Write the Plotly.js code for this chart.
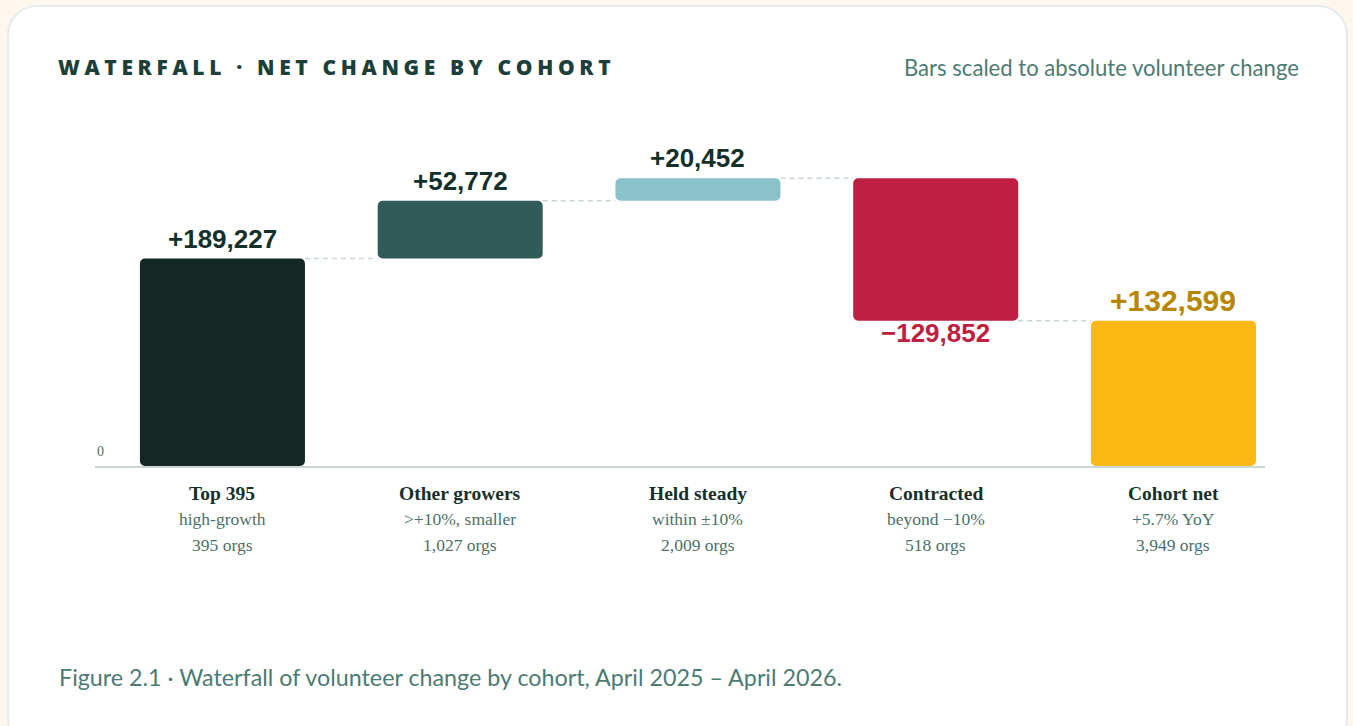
<!DOCTYPE html>
<html>
<head>
<meta charset="utf-8">
<script src="https://cdn.plot.ly/plotly-3.0.1.min.js"></script>
<style>
  html, body { margin: 0; padding: 0; width: 1353px; height: 726px; overflow: hidden; background: #fdf7ee; }
  #card { position: absolute; left: 7px; top: 5px; width: 1341px; height: 745px; background: #ffffff;
          border: 2px solid #e4ece9; border-radius: 30px; box-sizing: border-box; }
  #chart { position: absolute; left: 0; top: 0; width: 1353px; height: 726px; }
  #chart .gtitle { letter-spacing: 4.65px; }
</style>
</head>
<body>
<div id="card"></div>
<div id="chart"></div>
<script>
// ---- data ----
const categories = ['Top 395', 'Other growers', 'Held steady', 'Contracted', 'Cohort net'];
const subLabels = ['high-growth', '>+10%, smaller', 'within ±10%', 'beyond \u221210%', '+5.7% YoY'];
const orgCounts = ['395 orgs', '1,027 orgs', '2,009 orgs', '518 orgs', '3,949 orgs'];
const changes = [189227, 52772, 20452, -129852];
const netTotal = 132599;
const barColors = ['#132725', '#315b58', '#8ac2cc', '#bf1f42', '#fdb913'];
const labelColors = ['#15302b', '#15302b', '#15302b', '#c0203f', '#b78700'];

// ---- derived waterfall geometry (from data) ----
const bases = [], values = [];
let run = 0;
changes.forEach(v => { bases.push(run); values.push(v); run += v; });
bases.push(0); values.push(netTotal);
const xs = categories.map((_, i) => i);
const BW = 0.694;

const fmt = v => (v < 0 ? '\u2212' : '+') + Math.abs(v).toLocaleString('en-US');

const bars = { type: 'bar', x: xs, y: values, base: bases, width: BW, hoverinfo: 'skip', showlegend: false,
  marker: { color: barColors, cornerradius: 5, line: { width: 0 } } };

const shapes = [];
let cum = 0;
changes.forEach((v, i) => {
  cum += v;
  shapes.push({ type: 'line', xref: 'x', yref: 'y', x0: i + BW / 2, x1: i + 1 - BW / 2, y0: cum, y1: cum,
    line: { color: '#c5d6d6', width: 1.5, dash: '5px,4px' }, layer: 'below' });
});

// plot area in px: x 95..1265, y 100..466
const PX = x => (x - 95) / 1170;
const PY = y => (466 - y) / 366;

const annotations = [];
values.forEach((v, i) => {
  const isTotal = i === values.length - 1;
  const neg = v < 0;
  annotations.push({
    x: i, y: bases[i] + v, xref: 'x', yref: 'y', showarrow: false,
    text: '<b>' + fmt(v) + '</b>',
    yanchor: neg ? 'top' : 'bottom', yshift: neg ? 5 : (isTotal ? 2 : 3),
    font: { family: 'Liberation Sans, Arial, sans-serif', size: isTotal ? 30 : 26, color: labelColors[i] }
  });
  annotations.push({ x: i, y: 0, xref: 'x', yref: 'paper', yanchor: 'middle', yshift: -27, showarrow: false,
    text: '<b>' + categories[i] + '</b>',
    font: { family: 'Liberation Serif, Times New Roman, serif', size: 19.5, color: '#15302b' } });
  annotations.push({ x: i, y: 0, xref: 'x', yref: 'paper', yanchor: 'middle', yshift: -53, showarrow: false,
    text: subLabels[i],
    font: { family: 'Liberation Serif, Times New Roman, serif', size: 17.5, color: '#4b6f69' } });
  annotations.push({ x: i, y: 0, xref: 'x', yref: 'paper', yanchor: 'middle', yshift: -79, showarrow: false,
    text: orgCounts[i],
    font: { family: 'Liberation Serif, Times New Roman, serif', size: 17.5, color: '#4b6f69' } });
});

annotations.push({ x: 0, y: 0, xref: 'paper', yref: 'y', xanchor: 'left', yanchor: 'bottom', yshift: 5, showarrow: false,
  text: '0', font: { family: 'Liberation Serif, serif', size: 14, color: '#4b6f69' } });
annotations.push({ x: PX(1301), y: PY(68), xref: 'paper', yref: 'paper', xanchor: 'right', yanchor: 'middle',
  showarrow: false, text: 'Bars scaled to absolute volunteer change',
  font: { family: 'Lato, sans-serif', size: 22.1, color: '#4d7a73' } });
annotations.push({ x: PX(57), y: PY(677), xref: 'paper', yref: 'paper', xanchor: 'left', yanchor: 'middle',
  showarrow: false, text: 'Figure 2.1 \u00b7 Waterfall of volunteer change by cohort, April 2025 \u2013 April 2026.',
  font: { family: 'Lato, sans-serif', size: 23.3, color: '#4d7a73' } });

const layout = {
  width: 1353, height: 726,
  paper_bgcolor: 'rgba(0,0,0,0)', plot_bgcolor: 'rgba(0,0,0,0)',
  margin: { l: 95, r: 88, t: 100, b: 260 },
  title: { text: 'WATERFALL \u00b7 NET CHANGE BY COHORT', xref: 'container', yref: 'container',
    x: 58 / 1353, xanchor: 'left', y: 1 - 68 / 726, yanchor: 'middle',
    font: { family: 'Open Sans, sans-serif', size: 21, weight: 800, color: '#1d3f3a' } },
  xaxis: { range: [-0.536, 4.385], showgrid: false, zeroline: false, showticklabels: false,
    showline: true, linecolor: '#c9d8d6', linewidth: 2, fixedrange: true },
  yaxis: { range: [0, 333900], showgrid: false, zeroline: false, showticklabels: false, showline: false, fixedrange: true },
  shapes: shapes,
  annotations: annotations,
  font: { family: 'Open Sans, sans-serif' }
};

Plotly.newPlot('chart', [bars], layout, { displayModeBar: false, staticPlot: true });
</script>
</body>
</html>
